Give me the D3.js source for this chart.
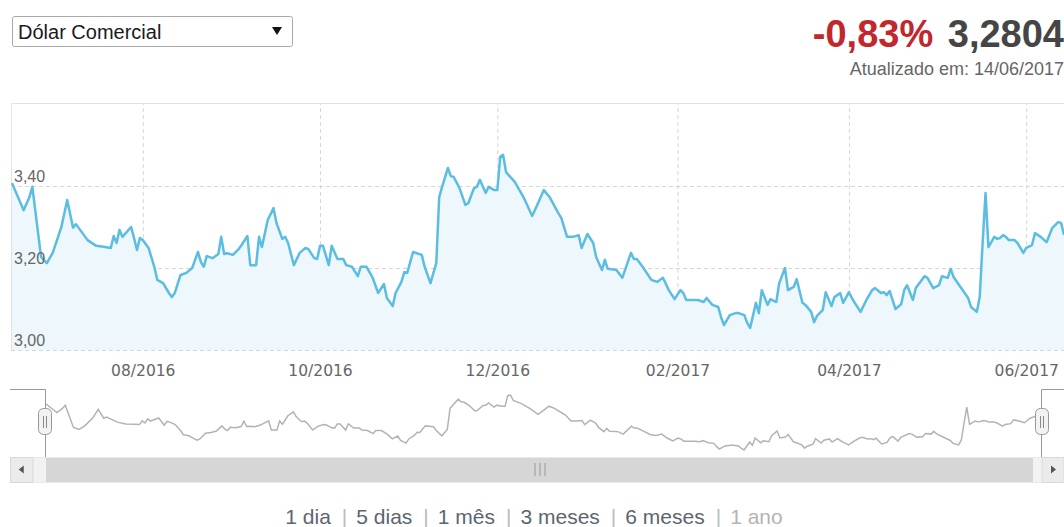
<!DOCTYPE html>
<html>
<head>
<meta charset="utf-8">
<title>Dólar Comercial</title>
<style>
	body{ margin:0; background:#fff; }
	svg{ display:block; }
	text{ font-family:"Liberation Sans", Arial, sans-serif; }
	.axis text{ font-family:"DejaVu Sans", sans-serif; font-size:15.5px; fill:#666; }
	.axis path, .grid path{ display:none; }
	.grid line{ stroke:#d6d6d6; stroke-dasharray:4,3; }
</style>
<script src="https://d3js.org/d3.v7.min.js"></script>
</head>
<body>
<svg width="1064" height="527"></svg>
<script>

var seriesName = "Dólar Comercial",
    change = "-0,83%",
    lastValue = "3,2804",
    updated = "Atualizado em: 14/06/2017";

var dates = [
 "2016-06-17","2016-06-21","2016-06-23","2016-06-24","2016-06-27","2016-06-29",
 "2016-07-01","2016-07-04","2016-07-06","2016-07-08","2016-07-09","2016-07-13","2016-07-16","2016-07-19","2016-07-21","2016-07-22","2016-07-23","2016-07-24","2016-07-25","2016-07-28","2016-07-29","2016-07-30","2016-07-31",
 "2016-08-01","2016-08-03","2016-08-05","2016-08-06","2016-08-08","2016-08-10","2016-08-11","2016-08-12","2016-08-14","2016-08-16","2016-08-18","2016-08-20","2016-08-21","2016-08-22","2016-08-23","2016-08-25","2016-08-27","2016-08-28","2016-08-29","2016-08-30",
 "2016-09-01","2016-09-03","2016-09-04","2016-09-06","2016-09-07","2016-09-09","2016-09-10","2016-09-11","2016-09-13","2016-09-15","2016-09-16","2016-09-18","2016-09-19","2016-09-20","2016-09-22","2016-09-24","2016-09-26","2016-09-27","2016-09-29","2016-09-30",
 "2016-10-01","2016-10-02","2016-10-04","2016-10-05","2016-10-07","2016-10-09","2016-10-10","2016-10-12","2016-10-14","2016-10-15","2016-10-17","2016-10-19","2016-10-21","2016-10-23","2016-10-24","2016-10-26","2016-10-27","2016-10-29","2016-10-30","2016-10-31",
 "2016-11-02","2016-11-05","2016-11-06","2016-11-08","2016-11-10","2016-11-11","2016-11-12","2016-11-14","2016-11-15","2016-11-16","2016-11-18","2016-11-20","2016-11-21","2016-11-23","2016-11-24","2016-11-25","2016-11-27","2016-11-28","2016-11-30",
 "2016-12-01","2016-12-02","2016-12-03","2016-12-04","2016-12-07","2016-12-10","2016-12-13","2016-12-15","2016-12-17","2016-12-19","2016-12-22","2016-12-23","2016-12-25","2016-12-27","2016-12-29","2016-12-30",
 "2017-01-01","2017-01-03","2017-01-04","2017-01-06","2017-01-07","2017-01-08","2017-01-11","2017-01-13","2017-01-16","2017-01-17","2017-01-18","2017-01-20","2017-01-23","2017-01-25","2017-01-27","2017-01-29","2017-01-31",
 "2017-02-02","2017-02-03","2017-02-04","2017-02-06","2017-02-08","2017-02-10","2017-02-11","2017-02-13","2017-02-15","2017-02-16","2017-02-17","2017-02-19","2017-02-21","2017-02-22","2017-02-24","2017-02-25","2017-02-26","2017-02-28",
 "2017-03-01","2017-03-02","2017-03-04","2017-03-05","2017-03-07","2017-03-08","2017-03-10","2017-03-11","2017-03-13","2017-03-14","2017-03-16","2017-03-17","2017-03-19","2017-03-20","2017-03-21","2017-03-23","2017-03-24","2017-03-26","2017-03-27","2017-03-29","2017-03-30",
 "2017-04-01","2017-04-02","2017-04-03","2017-04-05","2017-04-07","2017-04-09","2017-04-10","2017-04-12","2017-04-13","2017-04-14","2017-04-15","2017-04-17","2017-04-19","2017-04-20","2017-04-21","2017-04-23","2017-04-24","2017-04-27","2017-04-28","2017-04-30",
 "2017-05-02","2017-05-03","2017-05-05","2017-05-06","2017-05-07","2017-05-12","2017-05-13","2017-05-15","2017-05-16","2017-05-17","2017-05-18","2017-05-19","2017-05-21","2017-05-22","2017-05-23","2017-05-24","2017-05-25","2017-05-26","2017-05-28","2017-05-29","2017-05-31",
 "2017-06-01","2017-06-03","2017-06-04","2017-06-06","2017-06-08","2017-06-10","2017-06-12","2017-06-13","2017-06-14"
];

var values = [
 3.407,3.341,3.373,3.398,3.227,3.212,
 3.237,3.300,3.366,3.298,3.307,3.268,3.254,3.251,3.249,3.278,3.261,3.293,3.276,3.300,3.273,3.244,3.273,
 3.268,3.249,3.202,3.171,3.163,3.139,3.129,3.139,3.183,3.188,3.200,3.239,3.215,3.203,3.229,3.224,3.234,3.276,3.234,3.236,
 3.232,3.246,3.256,3.278,3.207,3.207,3.276,3.251,3.317,3.346,3.310,3.271,3.276,3.261,3.207,3.237,3.249,3.246,3.224,3.222,
 3.254,3.254,3.207,3.254,3.222,3.222,3.207,3.203,3.180,3.203,3.203,3.178,3.139,3.161,3.127,3.107,3.139,3.166,3.190,3.188,
 3.239,3.232,3.203,3.163,3.212,3.373,3.398,3.444,3.424,3.422,3.395,3.354,3.358,3.395,3.398,3.415,3.383,3.398,3.390,
 3.390,3.471,3.476,3.434,3.410,3.373,3.327,3.358,3.390,3.373,3.334,3.322,3.276,3.276,3.280,3.249,
 3.283,3.261,3.227,3.195,3.220,3.198,3.195,3.176,3.237,3.222,3.222,3.203,3.171,3.166,3.176,3.146,3.124,
 3.146,3.139,3.122,3.122,3.122,3.117,3.127,3.110,3.105,3.080,3.061,3.085,3.090,3.090,3.085,3.066,3.054,3.115,
 3.090,3.146,3.110,3.124,3.117,3.163,3.200,3.146,3.154,3.173,3.115,3.110,3.093,3.068,3.083,3.098,3.141,3.107,3.129,3.139,3.115,
 3.141,3.127,3.115,3.093,3.122,3.146,3.151,3.139,3.141,3.134,3.144,3.100,3.112,3.146,3.158,3.122,3.151,3.180,3.176,3.151,
 3.158,3.180,3.176,3.198,3.178,3.127,3.105,3.093,3.129,3.261,3.383,3.251,3.276,3.271,3.273,3.280,3.276,3.268,3.268,3.261,3.237,
 3.249,3.256,3.285,3.276,3.263,3.298,3.312,3.310,3.2804
];

var yTicks = [3.00, 3.20, 3.40],
    yDomain = [3.00, 3.60];

var xTicks = ["2016-08-01","2016-10-01","2016-12-01","2017-02-01","2017-04-01","2017-06-01"];

var periods = ["1 dia","5 dias","1 mês","3 meses","6 meses","1 ano"],
    activePeriod = "1 ano";

var parse = d3.timeParse("%Y-%m-%d");
var data = dates.map(function(d,i){ return {date:parse(d), value:values[i]}; });
var tickDates = xTicks.map(parse);

var svg = d3.select("svg");

var plot = {left:11, right:1064, top:103, bottom:350},
    nav = {left:46, right:1041, top:395, bottom:450},
    bar = {top:457, bottom:482};

var pt = d3.formatLocale({decimal:",", thousands:".", grouping:[3], currency:["R$",""]});
var fmt = pt.format(".2f");

var x = d3.scaleTime().domain(d3.extent(data,function(d){return d.date;})).range([12, plot.right]);
var y = d3.scaleLinear().domain(yDomain).range([plot.bottom, plot.top+1]);

// header: selector
var sel = svg.append("g");
sel.append("rect")
   .attr("x",12.5).attr("y",16.5).attr("width",280).attr("height",30).attr("rx",2)
   .attr("fill","#fff").attr("stroke","#a9a9a9");
sel.append("text")
   .attr("x",18).attr("y",39)
   .attr("font-size",20).attr("fill","#1a1a1a")
   .text(seriesName);
sel.append("path")
   .attr("d","M272,27 L282,27 L277,35 Z")
   .attr("fill","#111");

// header: quote
var quote = svg.append("text")
   .attr("x",1064).attr("y",47)
   .attr("text-anchor","end")
   .attr("font-size",38)
   .attr("font-weight","bold");
quote.append("tspan").attr("fill","#c1272d").text(change);
quote.append("tspan").attr("fill","#454545").attr("dx",4).text(" "+lastValue);

svg.append("text")
   .attr("x",1064).attr("y",75)
   .attr("text-anchor","end")
   .attr("font-size",18).attr("fill","#666")
   .text(updated);

// grid
svg.append("g").attr("class","grid")
   .attr("transform","translate(0,"+plot.bottom+")")
   .call(d3.axisBottom(x).tickValues(tickDates).tickSize(-(plot.bottom-plot.top)).tickFormat(""));

svg.append("g").attr("class","grid")
   .attr("transform","translate("+plot.left+",0)")
   .call(d3.axisRight(y).tickValues(yTicks).tickSize(plot.right-plot.left).tickFormat(""));

// plot border
svg.append("path")
   .attr("d","M"+(plot.left+0.5)+","+plot.bottom+"V"+(plot.top+0.5)+"H"+plot.right)
   .attr("fill","none").attr("stroke","#e2e2e2");

// area + line
var area = d3.area()
   .x(function(d){return x(d.date);})
   .y0(y(yDomain[0]))
   .y1(function(d){return y(d.value);});

var line = d3.line()
   .x(function(d){return x(d.date);})
   .y(function(d){return y(d.value);});

svg.append("path").datum(data)
   .attr("d",area)
   .attr("fill","#eef7fc");

svg.append("path").datum(data)
   .attr("d",line)
   .attr("fill","none")
   .attr("stroke","#5bbde1")
   .attr("stroke-width",2.5)
   .attr("stroke-linejoin","round");

// y labels inside the plot
svg.selectAll(".ylabel")
   .data(yTicks)
   .enter().append("text")
   .attr("class","ylabel")
   .attr("x",14)
   .attr("y",function(d){return y(d)-4;})
   .attr("font-family","DejaVu Sans, sans-serif")
   .attr("font-size",16)
   .attr("fill","#666")
   .text(function(d){return fmt(d);});

// x labels
svg.append("g").attr("class","axis")
   .attr("transform","translate(0,"+plot.bottom+")")
   .call(d3.axisBottom(x).tickValues(tickDates).tickSize(0).tickPadding(15).tickFormat(d3.timeFormat("%m/%Y")));

// navigator
var xn = d3.scaleTime().domain(x.domain()).range([nav.left, nav.right]);
var yn = d3.scaleLinear().domain(d3.extent(data,function(d){return d.value;})).range([nav.bottom, nav.top]);

svg.append("path").datum(data)
   .attr("d",d3.line().x(function(d){return xn(d.date);}).y(function(d){return yn(d.value);}))
   .attr("fill","none")
   .attr("stroke","#b3b3b3")
   .attr("stroke-width",1.5);

var outline = svg.append("g").attr("fill","none").attr("stroke","#999");
outline.append("path").attr("d","M10,389.5H"+(nav.left-0.5)+"V"+bar.top);
outline.append("path").attr("d","M"+(nav.right+0.5)+","+bar.top+"V389.5H1064");

// scrollbar
svg.append("rect")
   .attr("x",10.5).attr("y",bar.top+0.5).attr("width",1054).attr("height",bar.bottom-bar.top)
   .attr("fill","#f2f2f2").attr("stroke","#eaeaea");
svg.append("rect")
   .attr("x",nav.left).attr("y",bar.top+1).attr("width",nav.right-8-nav.left).attr("height",bar.bottom-bar.top-1)
   .attr("fill","#d6d6d6");

[[10.5,33],[1042,1064]].forEach(function(b,i){
	svg.append("rect")
	   .attr("x",b[0]).attr("y",bar.top+0.5).attr("width",b[1]-b[0]).attr("height",bar.bottom-bar.top)
	   .attr("fill","#ebebeb").attr("stroke","#d9d9d9");
	var cx=(b[0]+b[1])/2, cy=(bar.top+bar.bottom)/2;
	svg.append("path")
	   .attr("d", i==0 ? "M"+(cx+2)+","+(cy-4)+"L"+(cx-3)+","+cy+"L"+(cx+2)+","+(cy+4)+"Z"
	                   : "M"+(cx-2)+","+(cy-4)+"L"+(cx+3)+","+cy+"L"+(cx-2)+","+(cy+4)+"Z")
	   .attr("fill","#555");
});

var gripX = (nav.left+nav.right-8)/2;
[-5,0,5].forEach(function(o){
	svg.append("line")
	   .attr("x1",gripX+o+0.5).attr("x2",gripX+o+0.5)
	   .attr("y1",bar.top+6).attr("y2",bar.bottom-6)
	   .attr("stroke","#999");
});

// handles
[nav.left-1, nav.right+1].forEach(function(hx){
	var h = svg.append("g").attr("transform","translate("+hx+",422)");
	h.append("rect")
	 .attr("x",-6.5).attr("y",-13.5).attr("width",13).attr("height",26).attr("rx",5)
	 .attr("fill","#f2f2f2").attr("stroke","#999");
	h.append("path")
	 .attr("d","M-1.5,-6V6M1.5,-6V6")
	 .attr("stroke","#888");
});

// period links
var links = svg.append("g").attr("font-size",21);
var cursor = 0;
periods.forEach(function(p,i){
	if(i>0){
		var s = links.append("text").attr("x",cursor+11).attr("y",524).attr("fill","#bbb").text("|");
		cursor += 11 + s.node().getComputedTextLength() + 9;
	}
	var t = links.append("text")
	   .attr("x",cursor).attr("y",524)
	   .attr("fill", p==activePeriod ? "#b4b4b4" : "#5a6672")
	   .text(p);
	cursor += t.node().getComputedTextLength();
});
links.attr("transform","translate("+(534-cursor/2)+",0)");

</script>
</body>
</html>
